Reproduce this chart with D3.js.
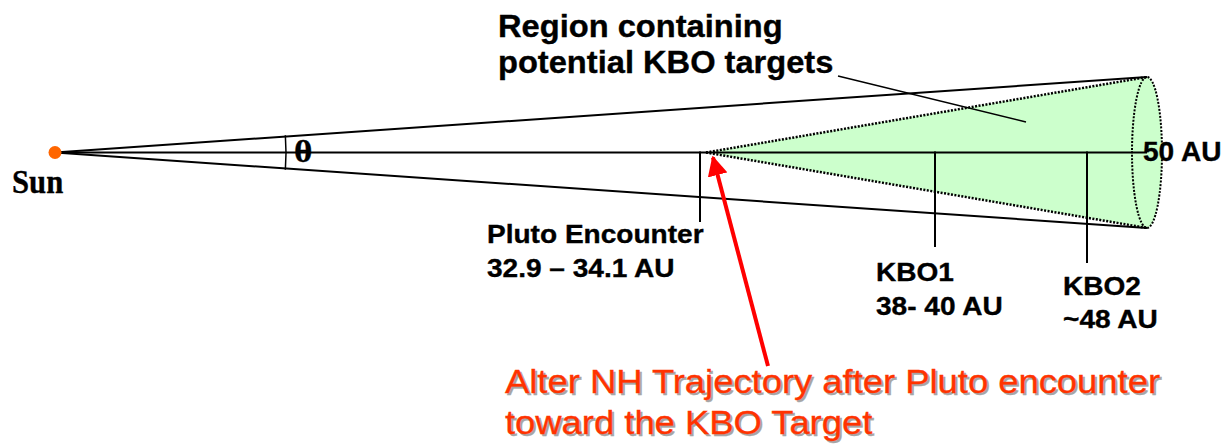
<!DOCTYPE html>
<html>
<head>
<meta charset="utf-8">
<script src="https://cdn.jsdelivr.net/npm/d3@7"></script>
<style>
  body { margin: 0; background: #fff; }
  text { font-family: "Liberation Sans", Arial, sans-serif; font-weight: bold; fill: #000; stroke: #000; stroke-width: 0.35px; }
  .serif { font-family: "Liberation Serif", "Times New Roman", serif; }
  .note { font-weight: normal; fill: #ff3300; stroke: #ff3300; stroke-width: 0.3px; }
  .shadow { font-weight: normal; fill: #a6a6a6; stroke: #a6a6a6; stroke-width: 0.3px; }
</style>
</head>
<body>
<svg width="1232" height="447"></svg>
<script>
// distances along the trajectory (AU) -- schematic, not to scale
var stops      = [0, 33.5, 39, 48, 50];
var markerAU   = [33.5, 39, 48];
var markerName = ["Pluto Encounter", "KBO1", "KBO2"];
var markerText = ["32.9 \u2013 34.1 AU", "38- 40 AU", "~48 AU"];
var edgeAU     = 50;
var edgeLabel  = "50 AU";
var regionText = ["Region containing", "potential KBO targets"];
var noteText   = ["Alter NH Trajectory after Pluto encounter", "toward the KBO Target"];

var svg = d3.select("svg");

var x = d3.scaleLinear().domain(stops).range([55, 700, 935, 1087, 1147]),
    y = d3.scaleLinear().domain([-1, 1]).range([228, 77]);

var cx = y(0);

function label(x0, y0, lines, size, lead, sx, cls) {
  var g = svg.append("g").attr("transform", "translate(" + x0 + "," + y0 + ") scale(" + sx + ",1)");
  lines.forEach(function(t, i) {
    g.append("text").attr("class", cls || null).attr("y", i * lead)
      .style("font-size", size + "px").text(t);
  });
  return g;
}

// green target region
var apex = x(markerAU[0]) + 6;
svg.append("path")
   .attr("d", "M" + apex + "," + cx + "L" + x(edgeAU) + "," + y(1) + "L" + x(edgeAU) + "," + y(-1) + "Z")
   .attr("fill", "#ccffcc")
   .attr("stroke", "none");
svg.append("ellipse")
   .attr("cx", x(edgeAU)).attr("cy", cx)
   .attr("rx", 15).attr("ry", (y(-1) - y(1)) / 2)
   .attr("fill", "#ccffcc")
   .attr("stroke", "#000").attr("stroke-width", 2).attr("stroke-dasharray", "2,1.5");
[1, -1].forEach(function(s) {
  svg.append("line")
     .attr("x1", apex).attr("y1", cx)
     .attr("x2", x(edgeAU)).attr("y2", y(s))
     .attr("stroke", "#000").attr("stroke-width", 2.5).attr("stroke-dasharray", "2,1.5");
});

// sun-centred wedge and centre line
[1, -1].forEach(function(s) {
  svg.append("line")
     .attr("x1", x(0)).attr("y1", cx)
     .attr("x2", x(edgeAU)).attr("y2", y(s))
     .attr("stroke", "#000").attr("stroke-width", 2);
});
svg.append("line")
   .attr("x1", x(0)).attr("y1", cx)
   .attr("x2", x(edgeAU)).attr("y2", cx)
   .attr("stroke", "#000").attr("stroke-width", 2);

// theta arc
var half = Math.atan((cx - y(1)) / (x(edgeAU) - x(0))) + 0.006;
var p = d3.path(), r = 231;
p.moveTo(x(0) + r * Math.cos(-half), cx + r * Math.sin(-half));
p.arc(x(0), cx, r, -half, half);
svg.append("path").attr("d", p.toString()).attr("fill", "none").attr("stroke", "#000").attr("stroke-width", 1.5);
label(x(0) + r + 8, cx + 9, ["\u03b8"], 32, 0, 1.1, "serif");

// marker ticks
var tickEnd = [222, 247, 263];
markerAU.forEach(function(d, i) {
  svg.append("line")
     .attr("x1", x(d)).attr("y1", cx - 1)
     .attr("x2", x(d)).attr("y2", tickEnd[i])
     .attr("stroke", "#000").attr("stroke-width", 2);
});

// sun
svg.append("circle").attr("cx", x(0)).attr("cy", cx).attr("r", 6.5).attr("fill", "#ff6600");
label(12, 193, ["Sun"], 33, 0, 0.93, "serif");

// labels
label(487, 243, [markerName[0], markerText[0]], 25.5, 34, 1.1);
label(876, 281, [markerName[1], markerText[1]], 25.5, 34, 1.1);
label(1063, 295, [markerName[2], markerText[2]], 25.5, 33, 1.1);
label(1143, 161, [edgeLabel], 27, 0, 1.04);
label(498, 37, regionText, 30.5, 36, 1.07);

// leader line
svg.append("line")
   .attr("x1", 838).attr("y1", 76)
   .attr("x2", 1026).attr("y2", 122)
   .attr("stroke", "#000").attr("stroke-width", 1.5);

// red arrow
svg.append("defs").append("marker")
   .attr("id", "head")
   .attr("viewBox", "0 0 10 10")
   .attr("refX", 9).attr("refY", 5)
   .attr("markerWidth", 5).attr("markerHeight", 5)
   .attr("orient", "auto")
   .append("path").attr("d", "M0,0L10,5L0,10Z").attr("fill", "#ff0000");
svg.append("line")
   .attr("x1", 768).attr("y1", 366)
   .attr("x2", apex + 7).attr("y2", cx + 5)
   .attr("stroke", "#ff0000").attr("stroke-width", 4)
   .attr("marker-end", "url(#head)");

// note with drop shadow
label(507, 395, noteText, 34, 41, 1.07, "shadow");
label(505, 393, noteText, 34, 41, 1.07, "note");
</script>
</body>
</html>
